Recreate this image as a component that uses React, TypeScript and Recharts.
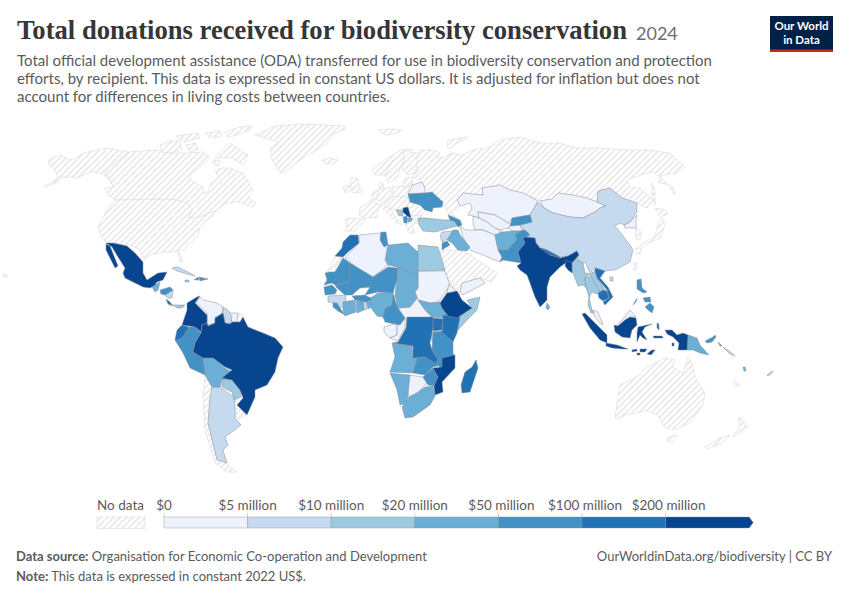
import { Scatter, ScatterChart, XAxis, YAxis } from "recharts";

// Map outlines, flat x,y pairs in map-plane units
const NO_DATA_SHAPES: number[][] = [
  // Alaska
  [48,161, 60,154, 65,158, 73,160, 83,153, 107,148, 128,152, 105,172, 114,187, 108,178, 100,173, 90,172, 77,178, 62,177, 58,182, 44,187, 58,178, 55,170, 50,166],
  // Canada
  [128,152, 140,151, 157,150, 168,153, 187,153, 203,152, 210,157, 200,167, 190,175, 190,180, 203,187, 204,193, 208,192, 210,185, 218,177, 215,170, 220,168, 230,168, 243,173, 253,190, 248,197, 256,203, 253,207, 237,202, 227,203, 217,210, 200,217, 188,218, 192,210, 187,203, 172,199, 115,200, 108,195, 105,188, 114,187, 105,172],
  // Arctic islands
  [160,145, 170,141, 180,141, 182,150, 170,153, 162,152],
  [176,136, 198,133, 200,138, 185,142],
  [205,133, 220,131, 222,136, 210,138],
  [225,132, 240,127, 253,126, 250,130, 237,135, 228,137],
  [215,157, 230,143, 248,155, 243,165, 232,158, 222,158],
  [213,160, 220,160, 218,166, 214,165],
  [186,145, 196,143, 198,149, 190,152],
  // United States, Hawaii
  [115,200, 172,199, 187,203, 192,210, 188,218, 200,217, 217,210, 213,215, 200,227, 198,235, 183,250, 178,250, 183,262, 180,262, 178,252, 163,252, 150,255, 145,260, 137,248, 128,245, 106,243, 102,238, 98,227, 108,208],
  [4,273, 8,276, 6,278, 3,276],
  // Greenland
  [255,135, 275,126, 300,124, 345,126, 345,129, 335,133, 325,145, 312,153, 300,160, 285,172, 280,173, 272,160, 270,148, 278,142, 262,137],
  // Iceland, Svalbard, Novaya Zemlya
  [322,160, 330,158, 338,160, 333,164, 325,164],
  [378,130, 390,129, 402,130, 395,134, 385,135],
  [448,140, 467,137, 466,139, 452,146, 450,149, 447,146],
  // Russia
  [418,170, 415,160, 420,150, 432,150, 440,153, 437,158, 445,157, 452,153, 462,155, 473,150, 490,147, 500,140, 520,137, 540,143, 560,143, 577,148, 597,148, 627,150, 647,150, 670,153, 685,167, 677,173, 662,175, 658,182, 673,187, 675,195, 667,183, 653,172, 647,173, 627,180, 630,187, 640,188, 653,200, 647,208, 640,205, 637,203, 622,198, 610,188, 598,191, 597,202, 587,198, 573,195, 558,193, 552,199, 540,201, 523,193, 510,190, 500,185, 482,188, 483,195, 463,193, 457,200, 460,206, 457,208, 450,212, 457,218, 448,214, 443,203, 430,192, 425,188, 422,182, 413,177],
  // Sakhalin, Japan, Taiwan, South Korea
  [652,183, 655,190, 655,205, 652,198],
  [655,208, 665,210, 668,214, 660,217],
  [662,218, 665,225, 660,238, 645,245, 640,250, 640,246, 655,235, 658,225],
  [636,248, 641,248, 640,254, 636,254],
  [634,263, 637,263, 636,270, 634,270],
  [636,228, 641,232, 641,238, 637,240, 635,235],
  // Europe
  [345,218, 365,219, 362,224, 355,231, 345,231, 347,225],
  [360,208, 372,200, 380,205, 377,213, 378,217, 367,218, 365,219, 359,215],
  [352,177, 357,178, 360,188, 362,192, 352,193, 353,188, 350,183],
  [343,187, 350,185, 352,190, 345,193],
  [378,190, 390,187, 393,197, 385,203, 377,200],
  [392,187, 408,185, 410,197, 398,197, 393,194],
  [378,205, 390,203, 390,208, 398,220, 402,225, 397,223, 385,210],
  [372,170, 387,158, 403,149, 413,150, 403,152, 390,163, 385,175, 375,175],
  [390,163, 403,152, 405,158, 400,168, 397,178, 388,183, 385,175],
  [405,158, 410,152, 418,153, 417,162, 417,173, 407,175, 401,168],
  [405,178, 413,177, 412,185, 403,187],
  [378,185, 382,182, 384,187, 380,189],
  [372,193, 378,190, 377,200, 372,200],
  [393,197, 410,197, 408,207, 396,210, 385,207, 385,203],
  [410,202, 420,205, 425,210, 422,215, 408,215, 405,208],
  [408,216, 422,215, 420,220, 411,220],
  [405,224, 412,219, 420,222, 412,225, 415,233, 409,233],
  // Western Sahara
  [335,257, 343,257, 340,262, 336,265, 335,272, 327,272],
  // Arabian peninsula
  [442,250, 458,250, 470,254, 480,262, 490,268, 497,273, 492,282, 480,278, 462,283, 460,292, 450,285, 445,272, 437,257],
  // Chile, Uruguay, French Guiana
  [205,375, 212,387, 210,397, 208,423, 217,457, 228,465, 237,472, 227,472, 215,463, 205,430, 203,397],
  [236,408, 242,410, 246,416, 238,419, 236,417],
  [238,313, 243,315, 240,322, 237,322],
  // Timor
  [650,351, 656,349, 656,351, 651,353],
  // Australia, Tasmania, New Zealand, New Caledonia
  [615,418, 618,397, 620,385, 640,375, 643,370, 655,363, 665,358, 675,360, 672,367, 683,373, 688,357, 692,363, 695,377, 705,393, 703,405, 690,423, 675,430, 665,428, 658,415, 647,411, 625,415, 618,419],
  [667,437, 677,435, 672,442, 668,442],
  [738,418, 741,418, 747,427, 733,437, 740,427],
  [730,435, 722,443, 707,449, 705,447, 720,438],
  [734,380, 740,385, 738,387, 735,384],
];

const BIN0_SHAPES: number[][] = [
  // Kazakhstan, Uzbekistan, Turkmenistan, Tajikistan, Iran, Mongolia
  [457,200, 463,193, 483,195, 482,188, 500,185, 510,190, 523,193, 538,201, 533,210, 530,215, 513,218, 508,223, 495,215, 478,212, 479,218, 473,216, 468,215, 472,208, 470,203, 460,206],
  [478,212, 495,215, 508,223, 512,225, 508,228, 500,230, 495,228, 487,222, 479,218],
  [473,216, 479,218, 487,222, 495,228, 502,232, 495,235, 483,230, 475,230, 473,223],
  [512,225, 520,225, 523,231, 512,231, 508,228],
  [460,227, 466,230, 475,230, 483,230, 495,235, 497,245, 502,257, 500,262, 483,255, 470,250, 463,237],
  [540,201, 552,199, 558,193, 573,195, 587,198, 597,202, 606,206, 600,208, 595,212, 583,218, 570,217, 553,213, 544,208],
  // Belarus, North Korea, Bhutan
  [412,185, 422,182, 425,188, 425,193, 408,194, 410,190],
  [630,222, 637,215, 636,220, 636,228, 630,228, 625,228, 624,225],
  [562,256, 568,256, 568,258, 562,258],
  // Africa
  [359,235, 380,233, 382,242, 388,250, 388,265, 373,277, 358,268, 345,258, 359,243],
  [418,271, 445,271, 450,285, 442,297, 438,302, 430,303, 418,300, 415,292, 418,288],
  [449,284, 460,295, 458,298, 447,293],
  [398,308, 410,307, 417,298, 425,310, 432,317, 420,318, 410,320, 403,320],
  [384,327, 397,323, 397,335, 390,338, 384,332],
  [397,322, 405,318, 405,327, 398,341, 390,338, 397,335],
  [409,375, 423,377, 427,383, 417,393, 409,397, 407,388],
  [462,283, 480,278, 485,283, 463,295, 460,292],
  // Americas
  [200,297, 196,303, 207,313, 208,325, 215,323, 215,318, 222,313, 223,307, 217,303, 203,300],
  [229,313, 238,313, 237,322, 232,322],
  // Malaysia
  [593,310, 598,312, 603,325, 600,323, 595,317],
  [617,325, 622,320, 630,310, 636,317, 630,317, 625,320, 618,326],
];

const BIN1_SHAPES: number[][] = [
  // China, Hainan
  [538,202, 544,208, 553,213, 570,217, 583,218, 595,212, 600,208, 606,206, 597,202, 598,191, 610,188, 622,198, 637,203, 637,212, 630,222, 624,225, 620,223, 615,226, 620,232, 630,245, 633,250, 630,262, 615,270, 605,271, 595,268, 590,273, 585,262, 583,263, 578,260, 577,251, 568,256, 560,257, 547,250, 541,248, 536,243, 535,238, 525,237, 530,235, 525,230, 523,231, 520,225, 532,222, 530,215, 533,210],
  [610,277, 613,277, 613,281, 610,281],
  // Syria, Cuba, Nicaragua
  [442,232, 453,231, 449,238, 442,242, 440,236],
  [172,268, 178,267, 188,272, 195,276, 187,274, 177,271],
  [165,295, 173,290, 172,298, 168,298],
  // Guyana, Argentina
  [223,307, 228,310, 232,317, 230,324, 225,323, 223,313],
  [212,387, 220,387, 235,398, 235,408, 235,418, 241,425, 232,432, 225,437, 228,445, 223,450, 227,463, 217,460, 208,423, 210,397],
  // West Africa, Rwanda and Burundi
  [328,296, 345,295, 347,305, 340,308, 335,303, 328,302],
  [363,301, 366,301, 367,309, 364,310],
  [431,333, 434,333, 434,340, 431,340],
  // Pacific islands
  [723,347, 728,350, 735,356, 730,354],
  [767,375, 771,372, 773,371, 771,374, 768,376],
];

const BIN2_SHAPES: number[][] = [
  // Turkey, Bosnia, Egypt, Somalia
  [418,218, 427,218, 443,220, 457,220, 460,225, 453,227, 442,230, 435,232, 423,231, 419,225],
  [396,210, 403,210, 403,216, 399,216],
  [418,245, 438,247, 445,270, 418,271],
  [467,300, 480,297, 477,310, 467,320, 458,330, 457,318, 472,308],
  // Myanmar, Thailand, Laos
  [575,257, 578,260, 583,263, 585,273, 590,274, 585,278, 586,287, 590,297, 589,290, 583,285, 578,286, 573,273, 571,268],
  [585,278, 591,276, 595,283, 600,292, 597,294, 592,292, 589,297, 592,310, 594,313, 591,313, 588,305, 589,297, 586,287],
  [590,274, 595,271, 597,278, 605,290, 600,292, 595,283, 591,276],
  // Panama, Jamaica, Paraguay
  [173,305, 178,305, 185,305, 182,308, 177,308],
  [185,280, 189,280, 189,282, 185,282],
  [222,379, 232,380, 240,390, 241,397, 234,400, 232,392, 222,387],
];

const BIN3_SHAPES: number[][] = [
  [495,235, 502,232, 512,231, 520,231, 515,235, 517,240, 512,245, 508,250, 498,250, 497,245],
  [453,230, 458,230, 460,235, 470,247, 467,251, 458,250, 452,243, 447,240],
  [407,218, 412,218, 412,221, 408,222],
  [388,245, 408,243, 418,252, 418,275, 410,272, 397,267, 388,265, 385,260],
  [397,267, 418,275, 418,288, 415,292, 417,298, 410,307, 398,308, 395,295, 397,280],
  [418,300, 430,303, 440,302, 443,308, 448,315, 442,318, 432,317, 425,310],
  [343,302, 355,300, 356,312, 345,316, 343,310],
  [356,301, 363,301, 364,310, 357,313],
  [366,298, 371,297, 373,306, 368,309],
  [372,297, 378,293, 393,293, 395,298, 392,305, 385,308, 383,317, 377,316, 371,308],
  [392,343, 412,346, 413,358, 417,358, 413,373, 390,372, 395,357],
  [390,373, 410,375, 407,403, 400,405, 397,390],
  [407,400, 409,397, 417,393, 425,387, 433,386, 435,396, 430,405, 413,417, 405,418, 402,407],
  [205,355, 213,358, 225,368, 232,372, 232,379, 222,379, 220,387, 212,387, 205,375, 203,358],
  [152,287, 160,282, 158,290, 155,292],
  [688,335, 697,338, 700,345, 709,355, 700,353, 693,350, 687,350],
  [547,303, 550,307, 548,310, 546,308],
  [743,367, 745,367, 746,371, 744,371],
];

const BIN4_SHAPES: number[][] = [
  [408,194, 425,193, 432,192, 443,202, 442,207, 433,208, 432,212, 425,210, 420,205, 410,202],
  [403,217, 407,216, 407,223, 404,223],
  [448,215, 460,220, 462,225, 458,227, 455,222, 450,220],
  [512,218, 530,215, 532,222, 520,225, 510,226],
  [520,231, 525,230, 530,235, 523,238, 525,243, 518,252, 521,263, 503,260, 500,262, 502,257, 498,250, 508,250, 512,245, 517,240, 515,235],
  [442,243, 447,241, 450,245, 445,248, 442,250],
  [381,232, 386,232, 388,245, 384,247, 380,240],
  [330,272, 335,272, 343,258, 350,263, 350,282, 335,285, 332,283, 324,285, 327,280, 325,273],
  [350,263, 358,268, 373,277, 372,287, 360,288, 352,295, 345,295, 337,288, 335,285, 350,282],
  [373,277, 388,267, 397,268, 397,280, 393,293, 378,292, 365,295, 370,287],
  [324,287, 332,285, 337,290, 335,294, 325,295],
  [333,303, 337,303, 340,308, 345,315, 338,311, 333,307],
  [352,296, 365,295, 372,299, 366,302, 355,300],
  [393,296, 395,300, 398,308, 405,318, 400,325, 385,322, 383,317, 385,308, 392,305],
  [433,332, 442,331, 453,342, 453,353, 455,357, 442,363, 438,360, 432,350],
  [413,358, 425,357, 429,352, 438,360, 442,365, 433,367, 425,375, 413,373, 417,358],
  [440,357, 445,365, 443,375, 440,368, 437,362],
  [433,368, 438,377, 434,386, 428,385, 423,377],
  [189,327, 195,327, 201,333, 195,343, 193,352, 203,358, 205,375, 190,368, 183,353, 175,340, 178,340, 183,337],
  [160,290, 170,287, 173,290, 165,295, 161,294],
  [194,280, 198,277, 199,280],
  [199,277, 208,279, 200,281],
  [637,280, 641,279, 642,288, 647,292, 643,293, 637,289],
  [645,307, 650,303, 654,307, 652,313, 648,310],
  [643,298, 650,297, 651,302, 645,302],
  [633,305, 637,298, 636,302],
  [718,342, 722,346, 720,346],
  [705,341, 713,337, 715,335, 716,337, 712,342, 707,343],
];

const BIN5_SHAPES: number[][] = [
  [541,248, 547,250, 560,257, 560,258, 550,255, 540,249],
  [350,235, 358,235, 359,243, 347,253, 343,257, 335,256, 342,248, 343,242],
  [407,317, 433,317, 433,328, 430,343, 432,350, 438,360, 435,363, 427,358, 425,357, 413,358, 413,346, 393,343, 398,342, 406,328],
  [433,318, 443,319, 442,330, 433,331],
  [443,315, 460,317, 457,333, 453,342, 442,332],
  [476,360, 478,368, 470,392, 462,393, 461,385, 465,372, 472,367],
  [182,325, 189,327, 183,337, 178,340, 175,340, 177,330],
  [166,299, 170,302, 173,306, 168,304],
  // Vietnam, Cambodia
  [595,268, 605,271, 600,278, 608,287, 613,297, 605,305, 603,302, 609,298, 607,290, 597,278, 595,271],
  [598,293, 603,290, 607,291, 609,298, 603,301, 599,298],
  [657,323, 659,324, 659,330, 657,328],
];

const BIN6_SHAPES: number[][] = [
  // Serbia
  [403,208, 408,207, 411,218, 407,216, 403,212],
  // India, Bangladesh
  [525,237, 535,238, 536,243, 540,248, 550,255, 560,258, 568,256, 577,251, 579,255, 572,263, 572,273, 567,262, 560,267, 550,277, 547,287, 547,300, 540,307, 535,297, 530,283, 527,275, 520,270, 517,266, 521,263, 518,252, 525,243, 523,238],
  [566,260, 572,263, 572,273, 568,270, 565,266],
  // Ethiopia, Mozambique
  [447,293, 457,291, 462,300, 472,308, 457,318, 448,316, 442,308, 440,303],
  [442,358, 455,355, 455,368, 442,382, 443,392, 435,395, 434,386, 438,377, 433,368, 442,367],
  // Mexico
  [106,243, 113,243, 127,246, 135,253, 143,262, 143,273, 147,280, 158,273, 167,272, 163,280, 157,282, 155,285, 150,288, 143,287, 125,278, 123,273, 125,268, 118,257, 112,247],
  [106,244, 110,246, 114,256, 118,266, 115,268, 110,258, 106,250],
  // Colombia, Brazil
  [197,297, 200,296, 195,303, 207,315, 207,323, 202,325, 201,332, 195,327, 182,325, 187,310, 187,303],
  [202,325, 207,323, 208,326, 215,323, 215,318, 223,313, 225,323, 230,324, 232,322, 240,322, 243,317, 248,327, 263,333, 275,338, 283,347, 278,358, 275,372, 267,385, 255,390, 255,397, 247,415, 237,405, 243,398, 240,390, 232,380, 222,378, 232,370, 225,367, 213,358, 203,358, 193,352, 195,343, 201,333],
  // Indonesia
  [582,314, 585,313, 595,323, 607,335, 607,343, 600,340, 590,328],
  [606,343, 617,345, 628,349, 622,349, 612,348, 606,346],
  [632,350, 637,349, 637,351, 632,352],
  [640,349, 647,349, 645,352, 640,352],
  [637,353, 640,353, 640,355, 637,355],
  [647,354, 652,350, 655,350, 651,355],
  [614,325, 618,326, 625,320, 630,317, 636,318, 637,325, 632,330, 630,338, 622,337, 615,332],
  [638,327, 652,324, 645,327, 642,332, 647,340, 643,338, 640,335, 637,342, 637,333],
  [653,336, 662,336, 663,338, 654,338],
  [672,343, 674,343, 674,346, 672,346],
  [665,330, 672,330, 677,335, 683,333, 688,335, 687,350, 678,350, 679,343, 673,337, 667,334],
];

const BIN_COLORS = ["#edf2fc", "#c5d9ef", "#9ecae1", "#6baed6", "#4292c6", "#2171b5", "#08458f"];
const BIN_SHAPES = [BIN0_SHAPES, BIN1_SHAPES, BIN2_SHAPES, BIN3_SHAPES, BIN4_SHAPES, BIN5_SHAPES, BIN6_SHAPES];
const LEGEND_LABELS = ["$0", "$5 million", "$10 million", "$20 million", "$50 million", "$100 million", "$200 million"];

const toPoints = (flat: number[]) => {
  const pts = [];
  for (let i = 0; i < flat.length; i += 2) pts.push({ x: flat[i], y: flat[i + 1] });
  return pts;
};

// Scatter hands the scaled points to the line renderer, so close them into a filled outline
const outline = (fill: string, stroke: string, width: number) => (props: any) => {
  const d = props.points.map((p: any, i: number) => `${i ? "L" : "M"}${p.x},${p.y}`).join("") + "Z";
  return <path d={d} fill={fill} stroke={stroke} strokeWidth={width} strokeLinejoin="round" />;
};

const noDot = () => <g />;

const LEGEND_X = 164;
const LEGEND_STEP = 83.6;

export default function App() {
  return (
    <div style={{ position: "absolute", left: 0, top: 0, width: 850, height: 600, background: "#fff", overflow: "hidden" }}>
      <ScatterChart width={850} height={600} margin={{ top: 0, right: 0, bottom: 0, left: 0 }}>
        <defs>
          <pattern id="hatch" width="4.5" height="4.5" patternUnits="userSpaceOnUse" patternTransform="rotate(-45)">
            <rect width="4.5" height="4.5" fill="#fff" />
            <rect width="4.5" height="1.5" fill="#e6e6e6" />
          </pattern>
        </defs>
        <XAxis type="number" dataKey="x" domain={[0, 850]} hide />
        <YAxis type="number" dataKey="y" domain={[0, 600]} reversed hide width={0} />
        {NO_DATA_SHAPES.map((s, i) => (
          <Scatter key={`nd-${i}`} data={toPoints(s)} line={outline("url(#hatch)", "#e0e0e0", 0.7)} shape={noDot} isAnimationActive={false} />
        ))}
        {BIN_SHAPES.map((shapes, b) =>
          shapes.map((s, i) => (
            <Scatter key={`b${b}-${i}`} data={toPoints(s)} line={outline(BIN_COLORS[b], "#8a8f96", 0.5)} shape={noDot} isAnimationActive={false} />
          ))
        )}
      </ScatterChart>
      <svg width={850} height={600} style={{ position: "absolute", left: 0, top: 0, fontFamily: "Lato" }}>
        <text x={17} y={39} fontFamily="'Liberation Serif'" fontWeight={700} fontSize={27} fill="#363636" textLength={610} lengthAdjust="spacingAndGlyphs">
          Total donations received for biodiversity conservation
        </text>
        <text x={636} y={40} fontSize={18} fill="#6e6e6e">2024</text>
        <g fontSize={15} fill="#5b5b5b">
          <text x={17} y={66}>Total official development assistance (ODA) transferred for use in biodiversity conservation and protection</text>
          <text x={17} y={84}>efforts, by recipient. This data is expressed in constant US dollars. It is adjusted for inflation but does not</text>
          <text x={17} y={102}>account for differences in living costs between countries.</text>
        </g>
        <rect x={770} y={16} width={63} height={36} fill="#002147" />
        <rect x={770} y={49.5} width={63} height={2.5} fill="#ce261e" />
        <g fontSize={11.5} fontWeight={700} fill="#fff" textAnchor="middle">
          <text x={801.5} y={30}>Our World</text>
          <text x={801.5} y={43.5}>in Data</text>
        </g>

        <text x={120.5} y={510} fontSize={13.5} fill="#5b5b5b" textAnchor="middle">No data</text>
        <rect x={97} y={517} width={48} height={11.5} fill="url(#hatch)" stroke="#dcdcdc" strokeWidth={0.6} />
        {BIN_COLORS.map((c, i) => {
          const x = LEGEND_X + i * LEGEND_STEP;
          const last = i === BIN_COLORS.length - 1;
          return (
            <g key={c}>
              <path
                d={last ? `M${x},517L${x + LEGEND_STEP},517L${x + LEGEND_STEP + 4},522.5L${x + LEGEND_STEP},528L${x},528Z` : `M${x},517H${x + LEGEND_STEP}V528H${x}Z`}
                fill={c}
                stroke="#8a8f96"
                strokeWidth={0.4}
              />
              <line x1={x} x2={x} y1={513} y2={517} stroke="#9a9a9a" strokeWidth={0.5} />
              <text x={x + (i > 3 ? 3 : 0)} y={510} fontSize={13.5} fill="#5b5b5b" textAnchor="middle">{LEGEND_LABELS[i]}</text>
            </g>
          );
        })}

        <text x={16} y={561} fontSize={13} fill="#5b5b5b">
          <tspan fontWeight={700}>Data source:</tspan> Organisation for Economic Co-operation and Development
        </text>
        <text x={832} y={561} fontSize={13} fill="#5b5b5b" textAnchor="end">OurWorldinData.org/biodiversity | CC BY</text>
        <text x={16} y={581} fontSize={13} fill="#5b5b5b">
          <tspan fontWeight={700}>Note:</tspan> This data is expressed in constant 2022 US$.
        </text>
      </svg>
    </div>
  );
}
